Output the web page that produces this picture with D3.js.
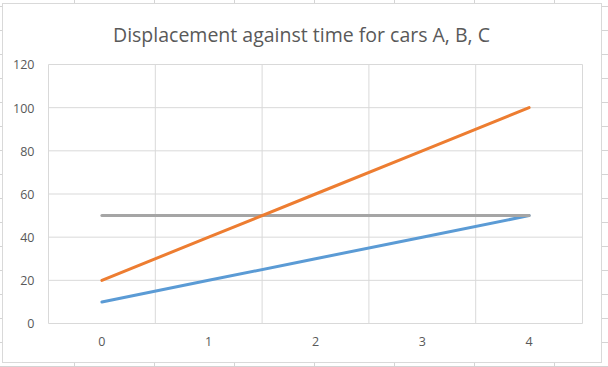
<!DOCTYPE html>
<html>
<head>
<meta charset="utf-8">
<script src="https://cdn.jsdelivr.net/npm/d3@7"></script>
<style>
  body { margin: 0; background: #fff; }
  svg { display: block; }
  .tick-label { font-family: "Open Sans", "Liberation Sans", sans-serif; font-size: 12.5px; fill: #595959; }
</style>
</head>
<body>
<div id="chart"></div>
<script>
// data
let times = [0, 1, 2, 3, 4];
let carA = [10, 20, 30, 40, 50];
let carB = [20, 40, 60, 80, 100];
let carC = [50, 50, 50, 50, 50];
let yTicks = [0, 20, 40, 60, 80, 100, 120];

let W = 608, H = 367;
let chartBox = {left: 2, top: 3, right: 601, bottom: 362};
let plot = {left: 48.5, top: 64.5, right: 582.5, bottom: 323.5};

let svg = d3.select("#chart").append("svg")
    .attr("width", W)
    .attr("height", H);

// spreadsheet grid behind the chart
let sheet = svg.append("g").attr("stroke", "#d4d4d4").attr("stroke-width", 1);
sheet.selectAll(".col")
    .data(d3.range(74, W, 80))
    .enter().append("line")
    .attr("x1", d => d + 0.5).attr("x2", d => d + 0.5)
    .attr("y1", 0).attr("y2", H);
sheet.selectAll(".row")
    .data(d3.range(6, H, 24))
    .enter().append("line")
    .attr("x1", 0).attr("x2", W)
    .attr("y1", d => d + 0.5).attr("y2", d => d + 0.5);

// chart area
svg.append("rect")
    .attr("x", chartBox.left + 0.5)
    .attr("y", chartBox.top + 0.5)
    .attr("width", chartBox.right - chartBox.left)
    .attr("height", chartBox.bottom - chartBox.top)
    .attr("fill", "#fff")
    .attr("stroke", "#d9d9d9");

svg.append("text")
    .attr("x", (chartBox.left + chartBox.right) / 2)
    .attr("y", 42)
    .attr("text-anchor", "middle")
    .style("font-family", "'Open Sans', sans-serif")
    .style("font-size", "19.5px")
    .style("fill", "#595959")
    .text("Displacement against time for cars A, B, C");

let xBand = d3.scaleBand().domain(times).range([plot.left, plot.right]);
let xScale = d => xBand(d) + xBand.bandwidth() / 2;
let yScale = d3.scaleLinear().domain([0, 120]).range([plot.bottom, plot.top]);

// gridlines
let grid = svg.append("g").attr("stroke", "#d9d9d9").attr("stroke-width", 1);
grid.selectAll(".hgrid")
    .data(yTicks)
    .enter().append("line")
    .attr("x1", plot.left).attr("x2", plot.right)
    .attr("y1", d => yScale(d)).attr("y2", d => yScale(d));
grid.selectAll(".vgrid")
    .data(times.map(t => xBand(t)).concat([plot.right]))
    .enter().append("line")
    .attr("x1", d => d).attr("x2", d => d)
    .attr("y1", plot.top).attr("y2", plot.bottom);

// axis labels
let yAxis = d3.axisLeft(yScale).tickValues(yTicks).tickSize(0).tickPadding(14);
let yAx = svg.append("g")
    .attr("transform", "translate(" + plot.left + ",0)")
    .call(yAxis);
yAx.select(".domain").remove();
yAx.selectAll("text").attr("class", "tick-label").attr("dy", "0.35em");

let xAxis = d3.axisBottom(xBand).tickSize(0).tickPadding(14);
let xAx = svg.append("g")
    .attr("transform", "translate(0," + plot.bottom + ")")
    .call(xAxis);
xAx.select(".domain").remove();
xAx.selectAll("text").attr("class", "tick-label");

// series lines
let line = d3.line()
    .x((d, i) => xScale(times[i]))
    .y(d => yScale(d));

let series = [
    {name: "A", values: carA, color: "#5b9bd5"},
    {name: "C", values: carC, color: "#a5a5a5"},
    {name: "B", values: carB, color: "#ed7d31"}
];

svg.append("g").selectAll("path")
    .data(series)
    .enter().append("path")
    .attr("d", d => line(d.values))
    .attr("fill", "none")
    .attr("stroke", d => d.color)
    .attr("stroke-width", 3)
    .attr("stroke-linecap", "round")
    .attr("stroke-linejoin", "round");
</script>
</body>
</html>
